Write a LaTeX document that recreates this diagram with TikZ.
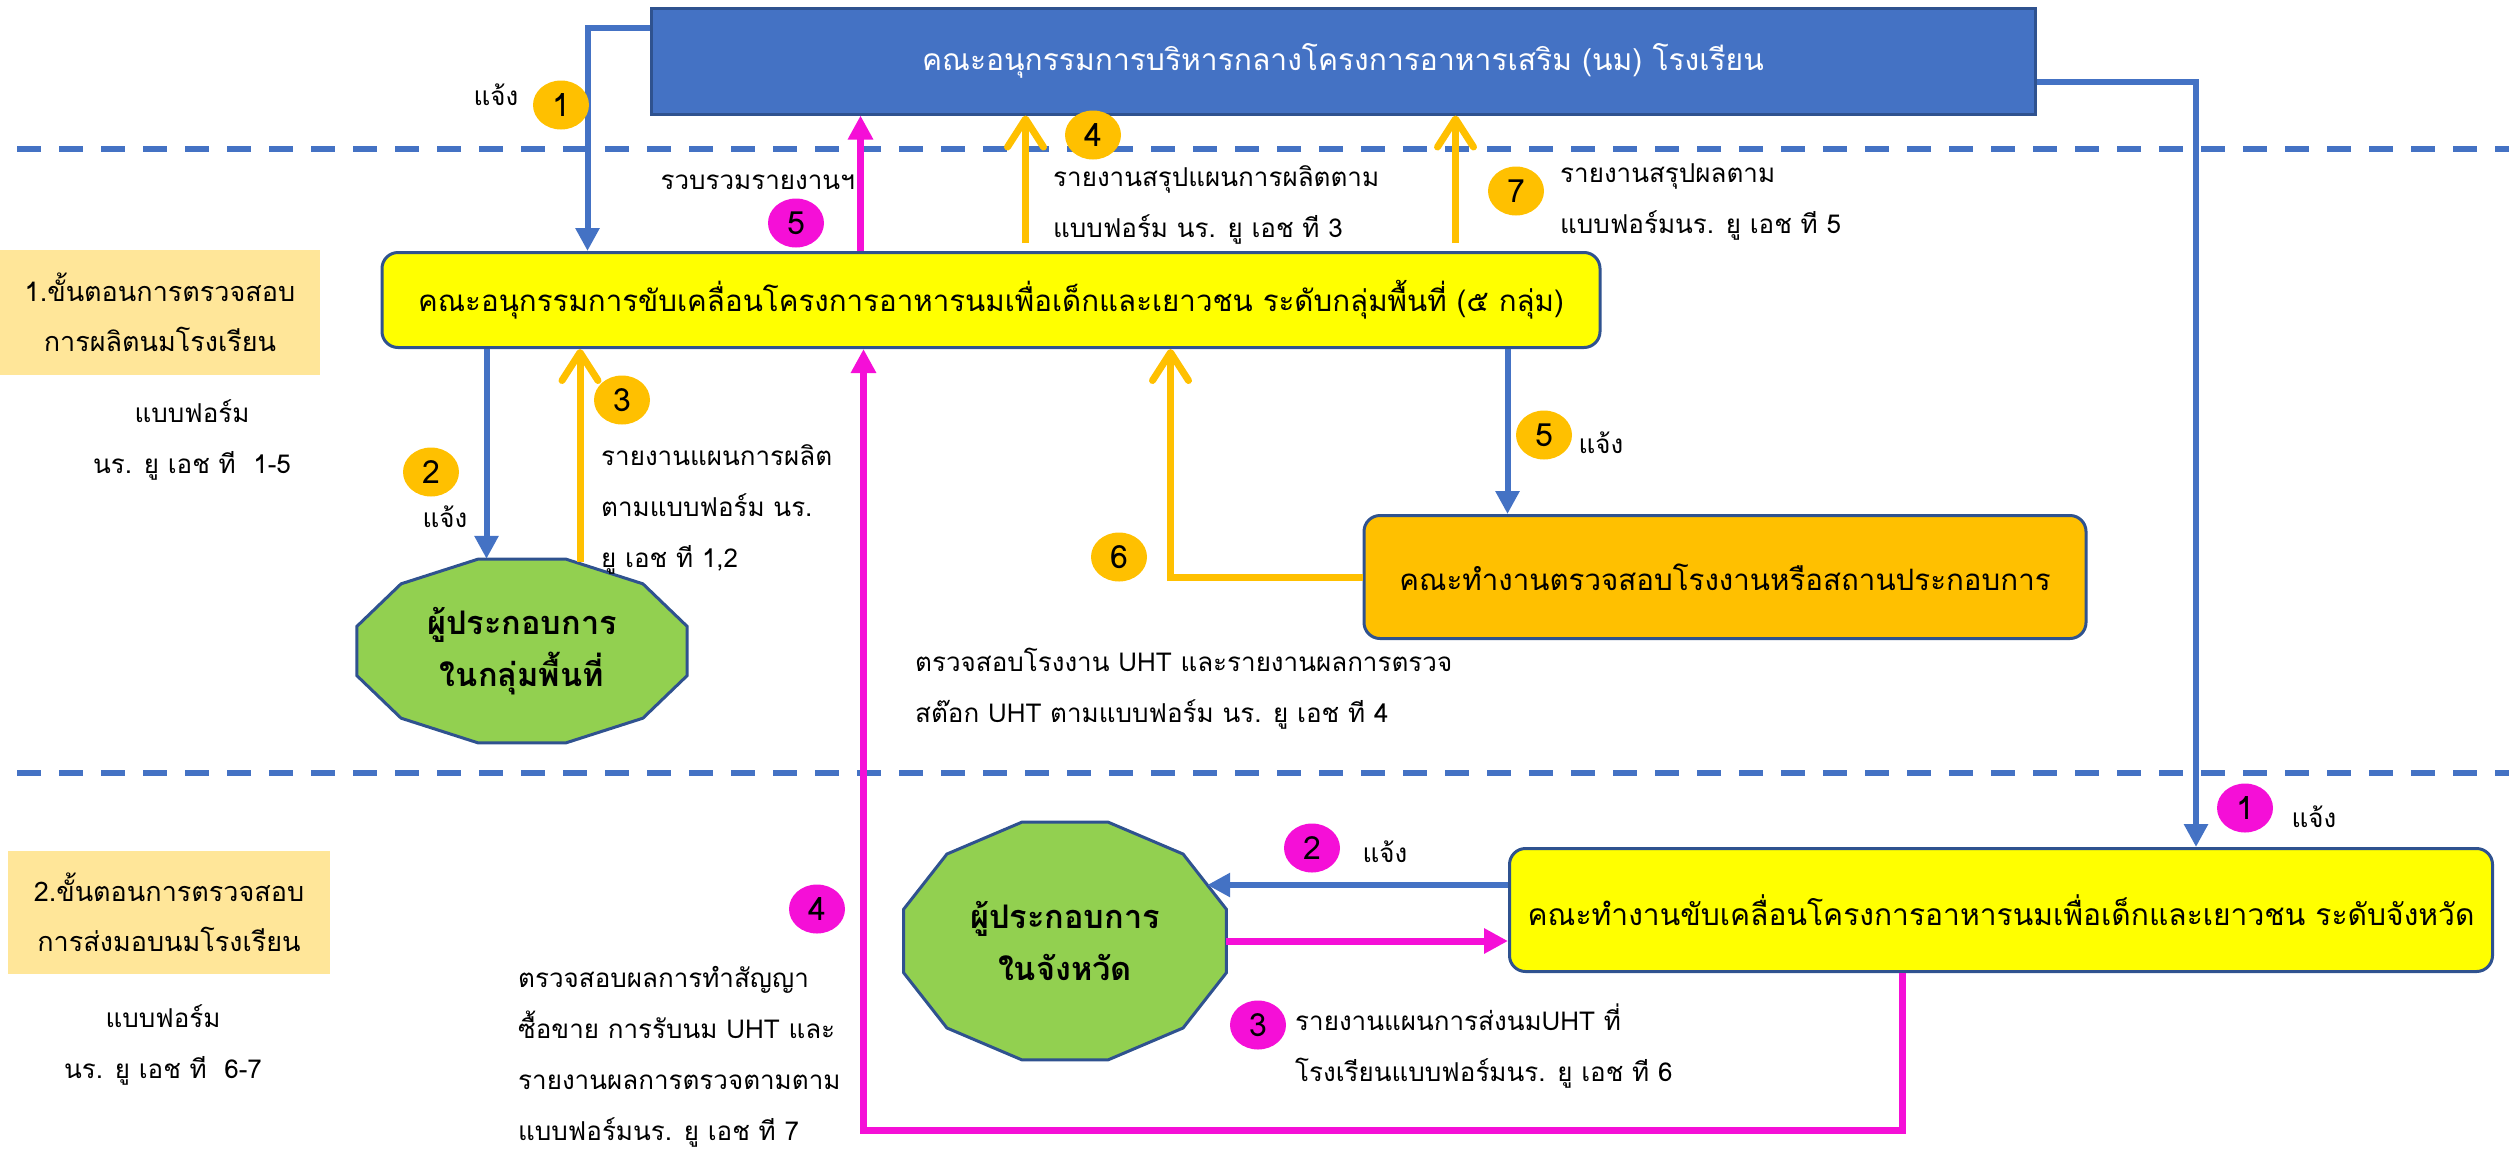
\documentclass[tikz,border=0pt]{standalone}
\usepackage{fontspec}
\setmainfont[Script=Thai]{Loma}
\usetikzlibrary{arrows.meta,shapes.geometric}
\definecolor{cblue}{HTML}{4472C4}
\definecolor{cborder}{HTML}{2F528F}
\definecolor{cyel}{HTML}{FFFF00}
\definecolor{corg}{HTML}{FFC000}
\definecolor{cgreen}{HTML}{92D050}
\definecolor{clab}{HTML}{FFE699}
\definecolor{cmag}{RGB}{245,15,215}
\begin{document}
\begin{tikzpicture}[x=1pt,y=-1pt,
  txt/.style={font=\fontsize{26}{51}\selectfont, inner sep=0pt, align=left, text=black},
  ctxt/.style={txt, align=center},
  boxtxt/.style={font=\fontsize{30}{50}\selectfont, inner sep=0pt, align=center},
  badge/.style={ellipse, minimum width=56pt, minimum height=49pt, inner sep=0pt, font=\fontsize{32}{32}\selectfont},
  obadge/.style={badge, fill=corg},
  mbadge/.style={badge, fill=cmag},
  bluebox/.style={boxtxt, draw=cborder, line width=3pt, fill=cblue, text=white},
  yelbox/.style={boxtxt, draw=cborder, line width=3pt, fill=cyel, rounded corners=16pt},
  orgbox/.style={boxtxt, draw=cborder, line width=3pt, fill=corg, rounded corners=16pt},
  labbox/.style={boxtxt, fill=clab, font=\fontsize{27}{50}\selectfont},
  poly/.style={draw=cborder, line width=3pt, fill=cgreen},
  optxt/.style={boxtxt, font=\fontsize{32.5}{52}\selectfont\bfseries},
  sep/.style={draw=cblue, line width=6pt, dash pattern=on 24pt off 18pt},
  bluearr/.style={draw=cblue, line width=6pt, -{Triangle[length=23pt,width=23pt]}},
  magarr/.style={draw=cmag, line width=7pt, -{Triangle[length=24pt,width=24pt]}},
  orgarr/.style={draw=corg, line width=7pt, -{Straight Barb[length=28pt,width=36pt,round]}}
]
\useasboundingbox (0,0) rectangle (2509,1160);

% separators
\coordinate (s1a) at (17,149); \coordinate (s1b) at (2509,149);
\coordinate (s2a) at (17,773); \coordinate (s2b) at (2509,773);
\draw[sep] (s1a) -- (s1b);
\draw[sep] (s2a) -- (s2b);

% main boxes
\node[bluebox, minimum width=1384pt, minimum height=106pt] (top) at (1343,61)
  {คณะอนุกรรมการบริหารกลางโครงการอาหารเสริม (นม) โรงเรียน};
\node[yelbox, minimum width=1218pt, minimum height=95pt, font=\fontsize{29.5}{50}\selectfont] (area) at (991,300)
  {คณะอนุกรรมการขับเคลื่อนโครงการอาหารนมเพื่อเด็กและเยาวชน ระดับกลุ่มพื้นที่ (๕ กลุ่ม)};
\node[orgbox, minimum width=722pt, minimum height=123pt, font=\fontsize{29.5}{50}\selectfont] (insp) at (1725,577)
  {คณะทำงานตรวจสอบโรงงานหรือสถานประกอบการ};
\node[yelbox, minimum width=983pt, minimum height=123pt] (prov) at (2001,910)
  {คณะทำงานขับเคลื่อนโครงการอาหารนมเพื่อเด็กและเยาวชน ระดับจังหวัด};

% side labels
\node[labbox, minimum width=320pt, minimum height=125pt] (lab1) at (160,312)
  {1.ขั้นตอนการตรวจสอบ\\การผลิตนมโรงเรียน};
\node[labbox, minimum width=322pt, minimum height=123pt] (lab2) at (169,912)
  {2.ขั้นตอนการตรวจสอบ\\การส่งมอบนมโรงเรียน};
\node[ctxt] (form1) at (192,440) {แบบฟอร์ม\\นร. ยู เอช ที~~1-5};
\node[ctxt] (form2) at (163,1045) {แบบฟอร์ม\\นร. ยู เอช ที~~6-7};

% dodecagons
\coordinate (c1) at (522,651);
\draw[poly, shift={(c1)}] (15:171pt and 95pt) -- (45:171pt and 95pt) -- (75:171pt and 95pt)
  -- (105:171pt and 95pt) -- (135:171pt and 95pt) -- (165:171pt and 95pt)
  -- (195:171pt and 95pt) -- (225:171pt and 95pt) -- (255:171pt and 95pt)
  -- (285:171pt and 95pt) -- (315:171pt and 95pt) -- (345:171pt and 95pt) -- cycle;
\node[optxt, minimum width=330pt, minimum height=184pt] (op1) at (c1) {ผู้ประกอบการ\\ในกลุ่มพื้นที่};

\coordinate (c2) at (1065,941);
\draw[poly, shift={(c2)}] (15:167pt and 123pt) -- (45:167pt and 123pt) -- (75:167pt and 123pt)
  -- (105:167pt and 123pt) -- (135:167pt and 123pt) -- (165:167pt and 123pt)
  -- (195:167pt and 123pt) -- (225:167pt and 123pt) -- (255:167pt and 123pt)
  -- (285:167pt and 123pt) -- (315:167pt and 123pt) -- (345:167pt and 123pt) -- cycle;
\node[optxt, minimum width=322pt, minimum height=238pt] (op2) at (c2) {ผู้ประกอบการ\\ในจังหวัด};

% connectors
\draw[bluearr] ([yshift=-21pt]top.north west) -| ([xshift=207pt]area.north west);
\draw[bluearr] ([yshift=-75pt]top.north east) -| ([xshift=688pt]prov.north west);
\draw[bluearr] ([xshift=106pt]area.south west) -- ([xshift=106pt]area.south west |- op1.north);
\coordinate (o3s) at ([xshift=58pt,yshift=-3pt]op1.north);
\draw[orgarr] (o3s) -- (o3s |- area.south);
\draw[magarr] ([xshift=480pt]area.north west) -- ([xshift=480pt]area.north west |- top.south);
\coordinate (o4s) at ([xshift=645pt,yshift=8pt]area.north west);
\draw[orgarr] (o4s) -- (o4s |- top.south);
\coordinate (o7s) at ([xshift=1075pt,yshift=8pt]area.north west);
\draw[orgarr] (o7s) -- (o7s |- top.south);
\draw[bluearr] ([xshift=1127pt]area.south west) -- ([xshift=145pt]insp.north west);
\draw[orgarr] (insp.west) -| ([xshift=790pt]area.south west);
\draw[magarr] ([xshift=394pt]prov.south west) -- ++(0,157) -| ([xshift=483pt]area.south west);
\coordinate (op2r) at ([xshift=-19pt,yshift=56pt]op2.east);
\draw[bluearr] (op2r -| prov.west) -- (op2r);
\draw[magarr] (op2.east) -- (op2.east -| prov.west);

% badges
\node[obadge] (b1) at (561,105) {1};
\node[obadge] (b2) at (431,472) {2};
\node[obadge] (b3) at (622,400) {3};
\node[obadge] (b4) at (1093,135) {4};
\node[mbadge] (b5) at (796,223) {5};
\node[obadge] (b5b) at (1544,435) {5};
\node[obadge] (b6) at (1119,557) {6};
\node[obadge] (b7) at (1516,191) {7};
\node[mbadge] (m1) at (2245,808) {1};
\node[mbadge] (m2) at (1312,848) {2};
\node[mbadge] (m3) at (1258,1025) {3};
\node[mbadge] (m4) at (817,909) {4};

% labels
\node[txt] (j1) at (496,95) {แจ้ง};
\node[txt] (j2) at (445,517) {แจ้ง};
\node[txt] (j5) at (1601,443) {แจ้ง};
\node[txt] (jm1) at (2314,817) {แจ้ง};
\node[txt] (jm2) at (1385,852) {แจ้ง};
\node[txt, anchor=east] (t5) at (855,182) {รวบรวมรายงานฯ};
\node[txt, anchor=west] (t4) at (1053,205) {รายงานสรุปแผนการผลิตตาม\\แบบฟอร์ม นร. ยู เอช ที 3};
\node[txt, anchor=west] (t7) at (1560,202) {รายงานสรุปผลตาม\\แบบฟอร์มนร. ยู เอช ที 5};
\node[txt, anchor=west] (t3) at (601,509) {รายงานแผนการผลิต\\ตามแบบฟอร์ม นร.\\ยู เอช ที 1,2};
\node[txt, anchor=west] (tu) at (915,689) {ตรวจสอบโรงงาน UHT และรายงานผลการตรวจ\\สต๊อก UHT ตามแบบฟอร์ม นร. ยู เอช ที 4};
\node[txt, anchor=west] (tm4) at (518,1057) {ตรวจสอบผลการทำสัญญา\\ซื้อขาย การรับนม UHT และ\\รายงานผลการตรวจตามตาม\\แบบฟอร์มนร. ยู เอช ที 7};
\node[txt, anchor=west] (tm3) at (1295,1046) {รายงานแผนการส่งนมUHT ที่\\โรงเรียนแบบฟอร์มนร. ยู เอช ที 6};
\end{tikzpicture}
\end{document}
